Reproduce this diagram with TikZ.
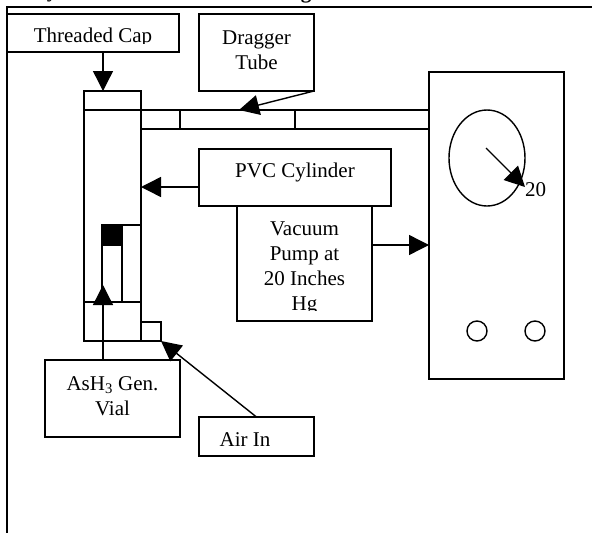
\documentclass[tikz,border=0pt]{standalone}
\usepackage{fontspec}
\setmainfont{Liberation Serif}
\usetikzlibrary{arrows.meta,positioning,shapes.geometric}

\begin{document}
\begin{tikzpicture}[x=1pt,y=-1pt,node distance=100pt,on grid,line width=1.4pt,>={Triangle[length=20pt,width=20pt]}]
	\tikzstyle{every node}=[font=\fontsize{21}{25}\selectfont,align=center,inner sep=0pt,outer sep=0pt]
	\tikzstyle{box}=[draw,rectangle]
	\tikzstyle{knob}=[draw,circle,minimum size=20pt]
	\useasboundingbox (0,0) rectangle (592,533);

	% frame and the cut title line
	\begin{scope}
		\clip (0,0) rectangle (592,6);
		\node (titley) at (52,-5) {\bfseries y};
		\node (titleg) at (306,-5) {\bfseries g};
	\end{scope}
	\draw[line width=2pt] (7,533) -- (7,6.5) -- (592,6.5);

	% labels on top
	\node[box,minimum width=172pt,minimum height=38pt] (cap) at (93,33) {};
	\node[box,minimum width=115pt,minimum height=77pt] (drag) [below right=19.5pt and 163.5pt of cap] {};
	\node (dragtext) at (256.5,50) {Dragger\\Tube};

	% column
	\node[box,minimum width=57pt,minimum height=250pt] (col) at (112.5,216) {};
	\node[box,minimum width=288pt,minimum height=19pt] (tube) at (285,119.5) {};
	\node[draw,fill=black,minimum width=20pt,minimum height=20pt] (plug) at (112,235) {};
	\node[box,minimum width=20pt,minimum height=19pt] (port) at (151,331.5) {};
	\coordinate (coltop) at (84,110);
	\coordinate (colbot) at (84,302);
	\draw (coltop) -- (coltop -| col.east);
	\draw (colbot) -- (colbot -| col.east);
	\draw (plug.north east) -- (plug.north -| col.east);
	\draw (plug.north west) -- (plug.north west |- colbot);
	\draw (plug.north east) -- (plug.north east |- colbot);
	\draw (180,110) -- (180,129);
	\draw (295,110) -- (295,129);

	% middle boxes
	\node[box,minimum width=192pt,minimum height=57pt] (pvc) at (295,177.5) {};
	\node (pvctext) at (295,172) {PVC Cylinder};
	\node[box,minimum width=135pt,minimum height=115pt] (pump) [below right=86pt and 9.5pt of pvc] {};
	\begin{scope}
		\clip (pump.north west) rectangle (372,310);
		\node (pumptext) at (304.5,268.5) {Vacuum\\Pump at\\20 Inches\\Hg};
	\end{scope}
	\begin{scope}
		\clip (cap.north west) rectangle (179,43);
		\node (captext) at (93,37) {Threaded Cap};
	\end{scope}

	% gauge
	\node[box,minimum width=135pt,minimum height=307pt] (gauge) at (496.5,225.5) {};
	\node[draw,ellipse,minimum width=76pt,minimum height=96pt] (dial) at (487,158) {};
	\node (read) at (535.5,190) {20};
	\node[knob] (knobl) at (477,331) {};
	\node[knob] (knobr) [right=58pt of knobl] {};

	% bottom boxes
	\node[box,minimum width=135pt,minimum height=77pt] (vial) at (112.5,398.5) {};
	\node (vialtext) at (112.5,396.5) {AsH\textsubscript{3} Gen.\\Vial};
	\node[box,minimum width=115pt,minimum height=39pt] (air) at (256.5,436.5) {};
	\node (airtext) at (245,440) {Air In};

	% arrow ends
	\coordinate (capfrom) at (103,52);
	\coordinate (capto) at (103,91);
	\coordinate (dragto) at (239,110);
	\coordinate (pvcto) at (141,187);
	\coordinate (pumpto) at (429,245);
	\coordinate (vialfrom) at (103,360);
	\coordinate (vialto) at (103,285);
	\coordinate (airto) at (161,341);
	\coordinate (needle) at (486,148);
	\coordinate (needleto) at (525,187);

	\path[->]
	(capfrom) edge[] (capto)
	(drag.south east) edge[] (dragto)
	(pvc.west |- pvcto) edge[] (pvcto)
	(pump.east |- pumpto) edge[] (pumpto)
	(vialfrom) edge[] (vialto)
	(air.north) edge[] (airto)
	(needle) edge[] (needleto)
	;
\end{tikzpicture}
\end{document}
